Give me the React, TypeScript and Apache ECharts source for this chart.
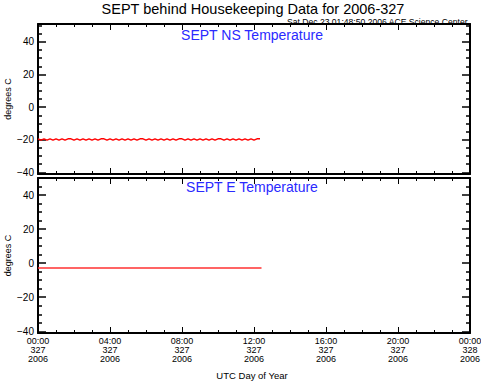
import React, { useEffect, useRef } from "react";
import * as echarts from "echarts";

// time in minutes from 00:00 UTC of day 327
const nsTimes = [
  0, 10, 20, 30, 40, 50, 60, 70, 80, 90, 100, 110, 120, 130, 140, 150, 160, 170, 180, 190,
  200, 210, 220, 230, 240, 250, 260, 270, 280, 290, 300, 310, 320, 330, 340, 350, 360, 370, 380, 390,
  400, 410, 420, 430, 440, 450, 460, 470, 480, 490, 500, 510, 520, 530, 540, 550, 560, 570, 580, 590,
  600, 610, 620, 630, 640, 650, 660, 670, 680, 690, 700, 710, 720, 730, 740,
];
const nsValues = [
  -19.4, -20.2, -19.4, -20.2, -19.4, -20.2, -19.4, -20.2, -19.4, -20.2, -19.4, -19.4, -20.2, -19.4, -20.2, -19.4, -20.2, -19.4, -20.2, -19.4,
  -20.2, -19.4, -19.4, -20.2, -19.4, -20.2, -19.4, -20.2, -19.4, -20.2, -19.4, -20.2, -19.4, -20.2, -19.4, -19.4, -20.2, -19.4, -20.2, -19.4,
  -20.2, -19.4, -20.2, -19.4, -20.2, -19.4, -20.2, -19.4, -19.4, -20.2, -19.4, -20.2, -19.4, -20.2, -19.4, -20.2, -19.4, -20.2, -19.4, -20.2,
  -19.4, -19.4, -20.2, -19.4, -20.2, -19.4, -20.2, -19.4, -20.2, -19.4, -20.2, -19.4, -20.2, -19.4, -19.4,
];
const eTimes = [0, 745];
const eValues = [-2.8, -2.8];

const xTickLabels = [
  "00:00\n327\n2006",
  "04:00\n327\n2006",
  "08:00\n327\n2006",
  "12:00\n327\n2006",
  "16:00\n327\n2006",
  "20:00\n327\n2006",
  "00:00\n328\n2006",
];
const yMajor = [-40, -20, 0, 20, 40];
const yMinor = [-35, -30, -25, -15, -10, -5, 5, 10, 15, 25, 30, 35, 45, 50];

const FONT = "Liberation Sans, Arial, sans-serif";

export default function App() {
  const ref = useRef<HTMLDivElement>(null);
  useEffect(() => {
    if (!ref.current) return;
    const chart = echarts.init(ref.current, null, { renderer: "svg" });
    const axisLine = { show: true, onZero: false, lineStyle: { color: "#000", width: 2 } };

    const mkX = (grid: number, position: string, labels: boolean) => ({
      type: "value",
      gridIndex: grid,
      position,
      min: 0,
      max: 1440,
      interval: 240,
      axisLine,
      axisTick: { show: true, inside: true, length: 6, lineStyle: { color: "#000", width: 1 } },
      minorTick: { show: true, splitNumber: 4, length: 3, lineStyle: { color: "#000", width: 1 } },
      splitLine: { show: false },
      axisLabel: labels
        ? {
            show: true,
            color: "#000",
            fontFamily: FONT,
            fontSize: 9,
            lineHeight: 8.7,
            margin: 4,
            showMaxLabel: true,
            hideOverlap: false,
            formatter: (v: number) => xTickLabels[Math.round(v / 240)] ?? "",
          }
        : { show: false },
    });

    const mkY = (grid: number, position: string, major: boolean, min: number, max: number, labels: boolean) => ({
      type: "value",
      gridIndex: grid,
      position,
      min,
      max,
      axisLine: major ? axisLine : { show: false, onZero: false },
      axisTick: {
        show: true,
        inside: true,
        length: major ? 8 : 4,
        customValues: major ? yMajor : yMinor,
        lineStyle: { color: "#000", width: 1.5 },
      },
      splitLine: { show: false },
      axisLabel: labels
        ? { show: true, color: "#000", fontFamily: FONT, fontSize: 10, margin: 4, customValues: yMajor,
            formatter: (v: number) => (v < 0 ? "\u2212" + Math.abs(v) : String(v)) }
        : { show: false },
      name: labels ? "degrees C" : "",
      nameLocation: "middle",
      nameRotate: 90,
      nameGap: 26,
      nameMoveOverlap: false,
      nameTextStyle: { color: "#000", fontFamily: FONT, fontSize: 9 },
    });

    const titleStyle = (size: number, color = "#000") => ({
      color,
      fontFamily: FONT,
      fontSize: size,
      fontWeight: "normal",
    });

    chart.setOption({
      animation: false,
      backgroundColor: "#fff",
      title: [
        {
          text: "SEPT behind Housekeeping Data for 2006-327",
          left: 253,
          textAlign: "center",
          top: 1,
          padding: 0,
          textStyle: titleStyle(14.5),
        },
        {
          text: "Sat Dec 23 01:48:50 2006 ACE Science Center",
          right: 13,
          top: 17,
          padding: 0,
          textStyle: titleStyle(8.6),
        },
        {
          text: "SEPT NS Temperature",
          left: 252,
          textAlign: "center",
          top: 27.5,
          padding: 0,
          textStyle: titleStyle(14, "#2a2aff"),
        },
        {
          text: "SEPT E Temperature",
          left: 252,
          textAlign: "center",
          top: 180,
          padding: 0,
          textStyle: titleStyle(14, "#2a2aff"),
        },
        {
          text: "UTC Day of Year",
          left: 252,
          textAlign: "center",
          top: 370,
          padding: 0,
          textStyle: titleStyle(9.5),
        },
      ],
      grid: [
        { left: 38, top: 24, width: 432, height: 150, outerBoundsMode: "none", containLabel: false },
        { left: 38, top: 178, width: 432, height: 155, outerBoundsMode: "none", containLabel: false },
      ],
      xAxis: [mkX(0, "bottom", false), mkX(0, "top", false), mkX(1, "bottom", true), mkX(1, "top", false)],
      yAxis: [
        mkY(0, "left", true, -41, 51, true),
        mkY(0, "left", false, -41, 51, false),
        mkY(0, "right", true, -41, 51, false),
        mkY(0, "right", false, -41, 51, false),
        mkY(1, "left", true, -41, 50, true),
        mkY(1, "left", false, -41, 50, false),
        mkY(1, "right", true, -41, 50, false),
        mkY(1, "right", false, -41, 50, false),
      ],
      series: [
        {
          type: "line",
          xAxisIndex: 0,
          yAxisIndex: 0,
          data: nsTimes.map((t, i) => [t, nsValues[i]]),
          showSymbol: false,
          lineStyle: { color: "#ff0000", width: 1.4 },
        },
        {
          type: "line",
          xAxisIndex: 2,
          yAxisIndex: 4,
          data: eTimes.map((t, i) => [t, eValues[i]]),
          showSymbol: false,
          lineStyle: { color: "#ff3030", width: 1.5 },
        },
      ],
    });
    return () => chart.dispose();
  }, []);
  return <div ref={ref} style={{ position: "fixed", left: 0, top: 0, width: 481, height: 382 }} />;
}
